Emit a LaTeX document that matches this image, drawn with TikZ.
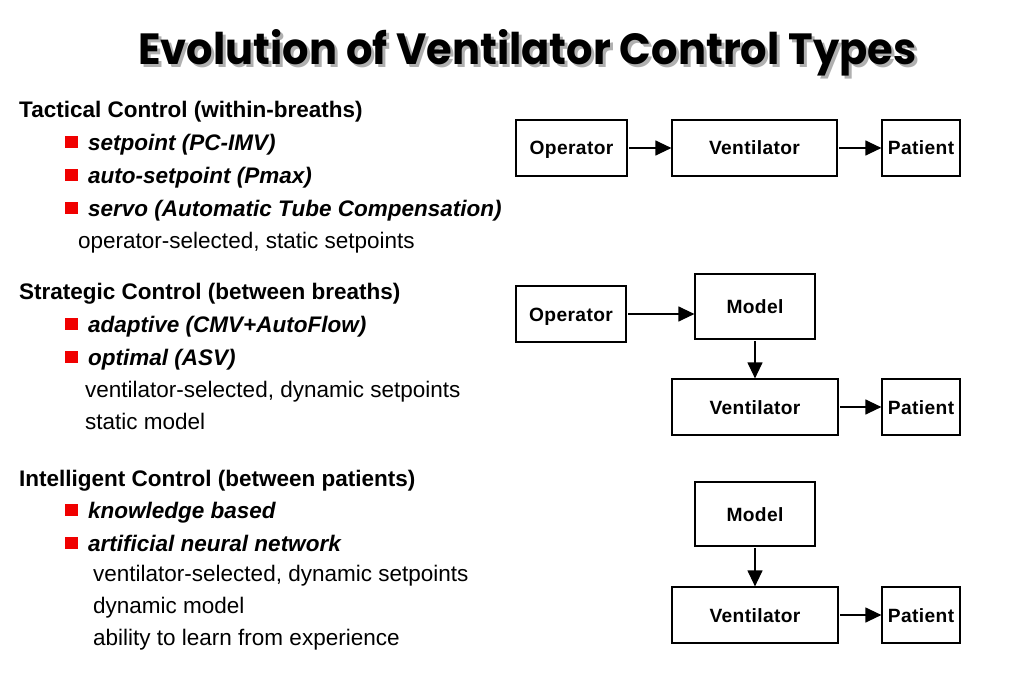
\documentclass[tikz,border=0pt]{standalone}
\usepackage{fontspec}
\setmainfont{Liberation Sans}
\newfontfamily\titlefont{Poppins}
\newfontfamily\boxfont{Liberation Sans}[LetterSpace=2]
\usetikzlibrary{arrows.meta}
\definecolor{shadowgray}{HTML}{B0B0B0}
\definecolor{bulred}{HTML}{F00000}
\begin{document}
\begin{tikzpicture}[x=1pt,y=-1pt,
  box/.style={draw=black, line width=1.2pt, inner sep=0pt, text height=14pt, text depth=0pt, font=\boxfont\bfseries\fontsize{19.2}{21}\selectfont},
  arr/.style={line width=1.2pt, shorten <=1.5pt, -{Triangle[length=16pt,width=15pt]}},
  head/.style={anchor=base west, inner sep=0pt, font=\bfseries\fontsize{22.5}{27}\selectfont},
  itemtxt/.style={anchor=base west, inner sep=0pt, font=\bfseries\itshape\fontsize{22.5}{27}\selectfont},
  plain/.style={anchor=base west, inner sep=0pt, font=\fontsize{22.5}{27}\selectfont},
  bul/.style={fill=bulred, draw=none, inner sep=0pt, minimum size=12.5pt, anchor=south west},
  titletxt/.style={anchor=base west, inner sep=0pt}]
\useasboundingbox (0,0) rectangle (1023,682);
\fill[white] (0,0) rectangle (1023,682);

% title with shadow
\node[titletxt, text=shadowgray] (tshadow) at (141,68) {\scalebox{1}[1.05]{\resizebox{778pt}{!}{\titlefont\bfseries Evolution of Ventilator Control Types}}};
\node[titletxt] (title) at (138,65) {\scalebox{1}[1.05]{\resizebox{778pt}{!}{\titlefont\bfseries Evolution of Ventilator Control Types}}};

% ---- left text, block 1
\node[head] (h1) at (19,118) {Tactical Control (within-breaths)};
\node[bul] (b11) at (65,148.5) {};
\node[itemtxt] (i11) at (88,150) {setpoint (PC-IMV)};
\node[bul] (b12) at (65,181.5) {};
\node[itemtxt] (i12) at (88,183) {auto-setpoint (Pmax)};
\node[bul] (b13) at (65,214.5) {};
\node[itemtxt] (i13) at (88,216) {servo (Automatic Tube Compensation)};
\node[plain] (p11) at (78,248) {operator-selected, static setpoints};

% ---- left text, block 2
\node[head] (h2) at (19,299) {Strategic Control (between breaths)};
\node[bul] (b21) at (65,330.5) {};
\node[itemtxt] (i21) at (88,332) {adaptive (CMV+AutoFlow)};
\node[bul] (b22) at (65,363.5) {};
\node[itemtxt] (i22) at (88,365) {optimal (ASV)};
\node[plain] (p21) at (85,397) {ventilator-selected, dynamic setpoints};
\node[plain] (p22) at (85,429) {static model};

% ---- left text, block 3
\node[head] (h3) at (19,486) {Intelligent Control (between patients)};
\node[bul] (b31) at (65,516.5) {};
\node[itemtxt] (i31) at (88,518) {knowledge based};
\node[bul] (b32) at (65,549.5) {};
\node[itemtxt] (i32) at (88,551) {artificial neural network};
\node[plain] (p31) at (93,581) {ventilator-selected, dynamic setpoints};
\node[plain] (p32) at (93,613) {dynamic model};
\node[plain] (p33) at (93,645) {ability to learn from experience};

% ---- diagram 1
\node[box, minimum width=111pt, minimum height=56pt] (op1) at (571.5,148) {Operator};
\node[box, minimum width=165pt, minimum height=56pt] (ve1) at (754.5,148) {Ventilator};
\node[box, minimum width=78pt, minimum height=56pt] (pa1) at (921,148) {Patient};
\draw[arr] (op1) -- (ve1);
\draw[arr] (ve1) -- (pa1);

% ---- diagram 2
\node[box, minimum width=110pt, minimum height=56pt] (op2) at (571,314) {Operator};
\node[box, minimum width=120pt, minimum height=65pt] (mo2) at (755,306.5) {Model};
\node[box, minimum width=166pt, minimum height=56pt] (ve2) at (755,407) {Ventilator};
\node[box, minimum width=78pt, minimum height=56pt] (pa2) at (921,407) {Patient};
\draw[arr] (op2.east) -- (op2.east -| mo2.west);
\draw[arr] (mo2) -- (ve2);
\draw[arr] (ve2) -- (pa2);

% ---- diagram 3
\node[box, minimum width=120pt, minimum height=64pt] (mo3) at (755,514) {Model};
\node[box, minimum width=166pt, minimum height=56pt] (ve3) at (755,615) {Ventilator};
\node[box, minimum width=78pt, minimum height=56pt] (pa3) at (921,615) {Patient};
\draw[arr] (mo3) -- (ve3);
\draw[arr] (ve3) -- (pa3);
\end{tikzpicture}
\end{document}
